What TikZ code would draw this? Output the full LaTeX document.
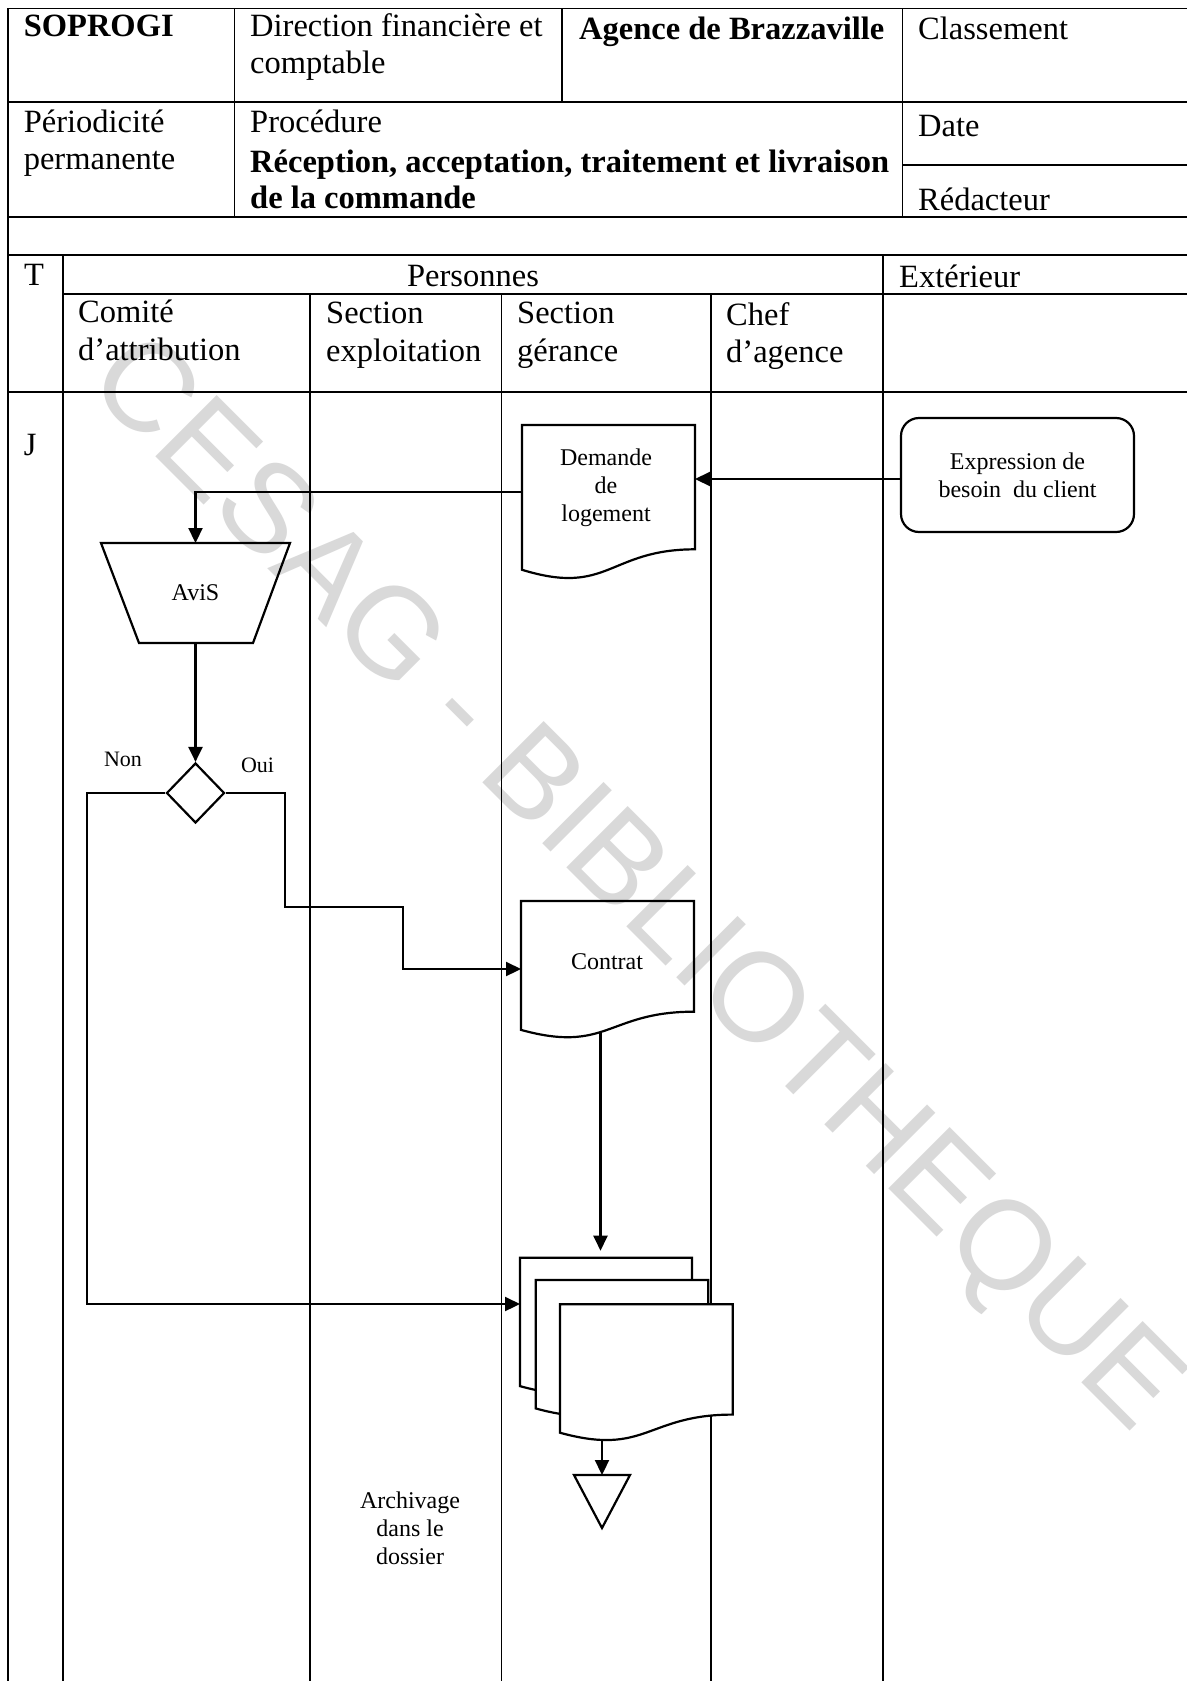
\documentclass[tikz,border=0pt]{standalone}
\usepackage{fontspec}
\setmainfont{Liberation Serif}
\newfontfamily\wmfont{Liberation Sans}
\usetikzlibrary{arrows.meta,calc,shapes.geometric}
\begin{document}
\begin{tikzpicture}[x=1pt,y=-1pt,
  tbl/.style={line width=1.8pt, line cap=rect},
  lane/.style={line width=1.6pt},
  shp/.style={line width=2.2pt, line join=miter},
  arr/.style={line width=2.2pt, -{Triangle[length=15pt,width=14pt]}},
  hd/.style={anchor=base west, inner sep=0pt, font=\fontsize{32.5}{37}\selectfont},
  hb/.style={anchor=base west, inner sep=0pt, font=\fontsize{32.5}{37}\selectfont\bfseries},
  fc/.style={align=center, inner sep=0pt, font=\fontsize{24}{28}\selectfont},
  lbl/.style={inner sep=0pt, font=\fontsize{22}{26}\selectfont},
  box/.style={draw=none, inner sep=0pt, outer sep=0pt},
]
\useasboundingbox[fill=white] (0,0) rectangle (1186,1681);

% watermark
\node[inner sep=0pt, rotate=-45, text=black!15, font=\wmfont\fontsize{126}{126}\selectfont] (wmark) at (632,887) {CESAG - BIBLIOTHEQUE};

% table
\draw[tbl] (7.6,8.5) -- (1186,8.5);
\draw[tbl] (7.6,102) -- (1186,102);
\draw[tbl] (902.4,165) -- (1186,165);
\draw[tbl] (7.6,217) -- (1186,217);
\draw[tbl] (7.6,255) -- (1186,255);
\draw[tbl] (62.8,294) -- (1186,294);
\draw[tbl] (7.6,392) -- (1186,392);
\draw[tbl] (7.6,8.5) -- (7.6,1681);
\draw[tbl] (234.5,8.5) -- (234.5,217);
\draw[tbl] (562,8.5) -- (562,102);
\draw[tbl] (902.4,8.5) -- (902.4,217);
\draw[tbl] (62.8,255) -- (62.8,1681);
\draw[tbl] (882.8,255) -- (882.8,1681);
\draw[lane] (310,294) -- (310,1681);
\draw[lane] (501.5,294) -- (501.5,1681);
\draw[lane] (711,294) -- (711,1681);

% header texts
\node[hb] (hsop) at (23.6,36) {SOPROGI};
\node[hd] (hdir1) at (250,36.7) {Direction financière et};
\node[hd] (hdir2) at (250,73.3) {comptable};
\node[hb] (hag) at (579,39) {Agence de Brazzaville};
\node[hd] (hcl) at (918,39) {Classement};
\node[hd] (hper1) at (23.6,132.7) {Périodicité};
\node[hd] (hper2) at (23.6,169.3) {permanente};
\node[hd] (hproc) at (250,132.7) {Procédure};
\node[hb] (hrec) at (250,172.7) {Réception, acceptation, traitement et livraison};
\node[hb] (hcom) at (250,208.3) {de la commande};
\node[hd] (hdate) at (918,136) {Date};
\node[hd] (hred) at (918,210.7) {Rédacteur};
\node[hd] (ht) at (24,285) {T};
\node[anchor=base, inner sep=0pt, font=\fontsize{32.5}{37}\selectfont] (hpers) at (473,286) {Personnes};
\node[hd] (hext) at (899,287) {Extérieur};
\node[hd] (hc1) at (78,322.7) {Comité};
\node[hd] (hc2) at (78,360) {d’attribution};
\node[hd] (hs1) at (326,323) {Section};
\node[hd] (hs2) at (326,361.7) {exploitation};
\node[hd] (hg1) at (517,323) {Section};
\node[hd] (hg2) at (517,361.7) {gérance};
\node[hd] (hch1) at (726,325) {Chef};
\node[hd] (hch2) at (726,362) {d’agence};
\node[hd] (hj) at (23.6,455) {J};

% shapes
\node[box, minimum width=173pt, minimum height=155pt, anchor=north west] (dem) at (522,425) {};
\node[fc] (demt) at (606,488) {Demande\\de\\logement};
\node[draw, shp, rounded corners=18pt, minimum width=233pt, minimum height=114pt, fc] (expr) at (1017.5,475) {Expression de\\besoin~~du client};
\node[box, fc, minimum width=189pt, minimum height=100pt] (avis) at (195.5,593) {AviS};
\draw[shp] (avis.north west) -- (avis.north east) -- ([xshift=-37pt]avis.south east) -- ([xshift=38pt]avis.south west) -- cycle;
\node[draw, shp, diamond, minimum width=58pt, minimum height=60pt, inner sep=0pt] (dia) at (195.5,793) {};
\node[box, minimum width=173pt, minimum height=138pt, anchor=north west] (con) at (521,901) {};
\node[fc] (cont) at (607,962) {Contrat};
\node[box, minimum width=172pt, minimum height=137.5pt, anchor=north west] (mdA) at (520,1257.7) {};
\node[box, minimum width=172.6pt, minimum height=137.5pt, anchor=north west] (mdB) at (535.7,1280) {};
\node[box, minimum width=172.7pt, minimum height=137.5pt, anchor=north west] (mdC) at (560,1304.3) {};
\foreach \n in {dem,con}
  \draw[shp] (\n.north west) -- (\n.north east) -- ($(\n.north east)!0.802!(\n.south east)$) .. controls ($(\n.north)!0.802!(\n.south)$) and ($(\n.north)!1.107!(\n.south)$) .. ($(\n.north west)!0.934!(\n.south west)$) -- cycle;
\foreach \n in {mdA,mdB,mdC}
  \draw[shp, fill=white] (\n.north west) -- (\n.north east) -- ($(\n.north east)!0.802!(\n.south east)$) .. controls ($(\n.north)!0.802!(\n.south)$) and ($(\n.north)!1.107!(\n.south)$) .. ($(\n.north west)!0.934!(\n.south west)$) -- cycle;
\node[box, minimum width=56pt, minimum height=53pt] (arch) at (602,1501.5) {};
\draw[shp] (arch.north west) -- (arch.north east) -- (arch.south) -- cycle;
\node[fc] (archt) at (410,1528) {Archivage\\dans le\\dossier};
\node[lbl] (non) at (123,759) {Non};
\node[lbl] (oui) at (257.6,765) {Oui};

% connectors
\draw[arr] ([yshift=-4pt]expr.west) -- ([yshift=-4pt]expr.west -| dem.east);
\draw[arr] ([yshift=10.5pt]dem.west) -| (avis.north);
\draw[arr] (avis.south) -- (dia.north);
\coordinate (nonk) at (87,1304);
\draw[arr] (dia.west) -| (nonk) -- (nonk -| mdA.west);
\coordinate (ouiA) at (285,907);
\coordinate (ouiB) at (403,969);
\draw[arr] (dia.east) -| (ouiA) -| (ouiB) -- (ouiB -| con.west);
\coordinate (conb) at (600.5,1032);
\draw[arr, shorten >=7pt] (conb) -- (conb |- mdA.north);
\coordinate (mdb) at (602,1440);
\draw[arr] (mdb) -- (arch.north);
\end{tikzpicture}
\end{document}
